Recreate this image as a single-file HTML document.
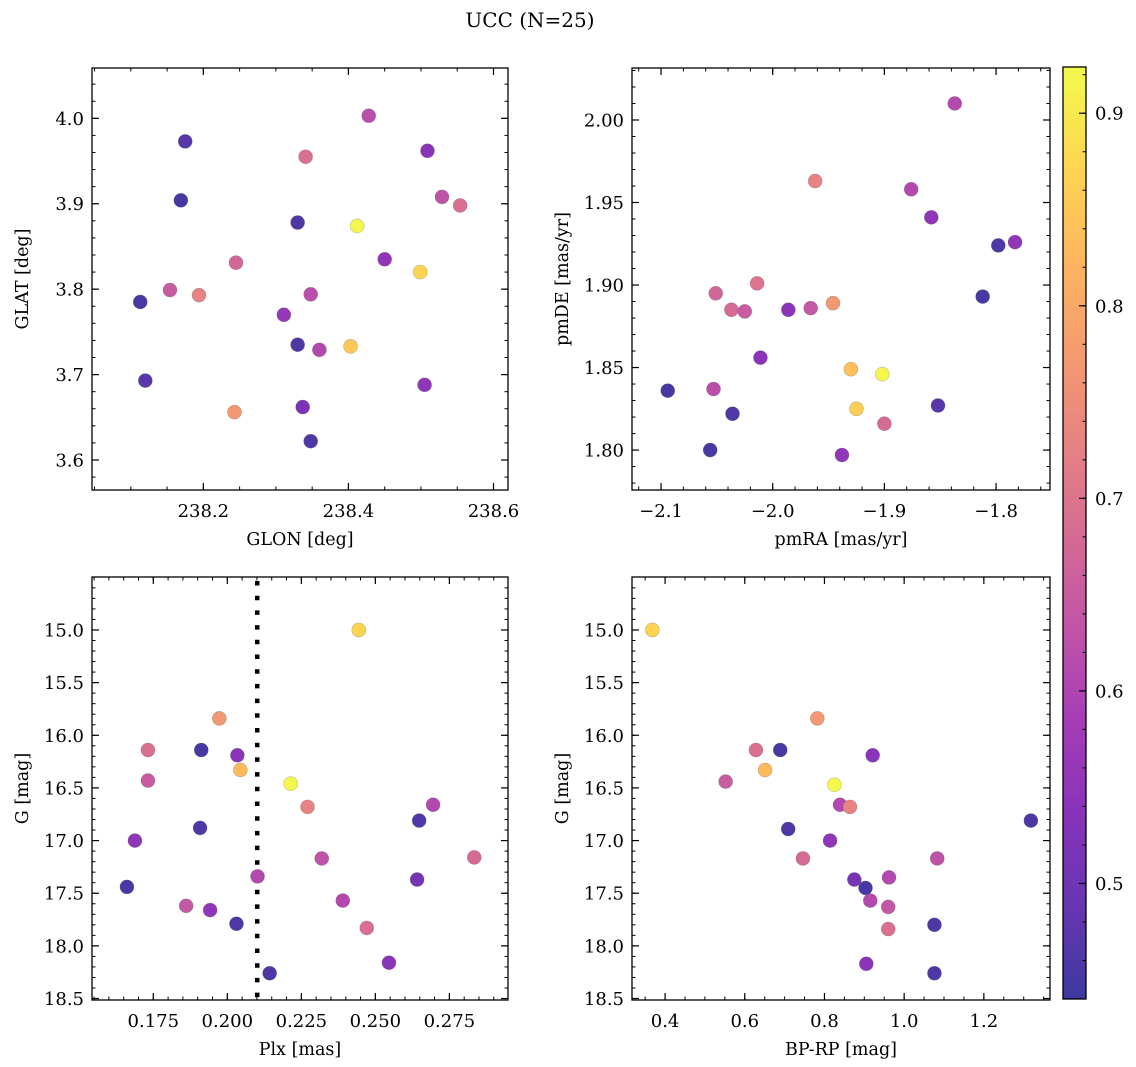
<!DOCTYPE html>
<html><head><meta charset="utf-8"><style>
html,body{margin:0;padding:0;background:#fff;}
svg{display:block;font-family:"DejaVu Serif","Liberation Serif",serif;}
</style></head><body>
<svg id="fig" width="1136" height="1067" viewBox="0 0 1136 1067" xmlns="http://www.w3.org/2000/svg">
<text x="530" y="27" font-size="20" text-anchor="middle">UCC (N=25)</text>
</svg>
<script>
// ---- data ----
const p1Glon = [238.428,238.175,238.341,238.509,238.169,238.529,238.554,238.330,238.412,238.450,238.245,238.499,238.154,238.194,238.113,238.348,238.311,238.330,238.360,238.403,238.120,238.505,238.243,238.337,238.348];
const p1Glat = [4.003,3.973,3.955,3.962,3.904,3.908,3.898,3.878,3.874,3.835,3.831,3.820,3.799,3.793,3.785,3.794,3.770,3.735,3.729,3.733,3.693,3.688,3.656,3.662,3.622];
const p1Prob = [0.62,0.47,0.69,0.54,0.45,0.63,0.69,0.46,0.92,0.55,0.67,0.87,0.65,0.73,0.45,0.62,0.56,0.46,0.61,0.85,0.47,0.55,0.77,0.52,0.46];

const p2PmRA = [-1.837,-1.962,-1.876,-1.858,-1.798,-1.783,-1.812,-2.051,-2.014,-2.037,-2.025,-1.986,-1.966,-1.946,-2.011,-1.930,-1.902,-2.094,-2.053,-2.036,-1.925,-1.900,-1.852,-2.056,-1.938];
const p2PmDE = [2.010,1.963,1.958,1.941,1.924,1.926,1.893,1.895,1.901,1.885,1.884,1.885,1.886,1.889,1.856,1.849,1.846,1.836,1.837,1.822,1.825,1.816,1.827,1.800,1.797];
const p2Prob = [0.61,0.73,0.61,0.55,0.46,0.55,0.45,0.67,0.70,0.68,0.65,0.54,0.64,0.77,0.54,0.84,0.92,0.45,0.62,0.46,0.86,0.68,0.47,0.45,0.55];

const p3Plx = [0.2444,0.1973,0.1732,0.1912,0.2034,0.2044,0.1732,0.2214,0.2271,0.2695,0.2648,0.1908,0.1688,0.2319,0.2834,0.2102,0.2641,0.1661,0.1861,0.1942,0.2390,0.2031,0.2471,0.2546,0.2143];
const p3G = [15.00,15.84,16.14,16.14,16.19,16.33,16.43,16.46,16.68,16.66,16.81,16.88,17.00,17.17,17.16,17.34,17.37,17.44,17.62,17.66,17.57,17.79,17.83,18.16,18.26];
const p3Prob = [0.87,0.77,0.69,0.45,0.54,0.83,0.65,0.92,0.73,0.61,0.46,0.46,0.55,0.63,0.68,0.61,0.51,0.45,0.64,0.55,0.61,0.46,0.69,0.54,0.46];
const plxCut = [0.2101];

const p4BpRp = [0.368,0.782,0.628,0.689,0.921,0.651,0.552,0.825,0.839,0.864,1.318,0.709,0.814,0.746,1.083,0.962,0.875,0.903,0.915,0.960,1.076,0.960,0.905,1.076];
const p4G = [15.00,15.84,16.14,16.14,16.19,16.33,16.44,16.47,16.66,16.68,16.81,16.89,17.00,17.17,17.17,17.35,17.37,17.45,17.57,17.63,17.80,17.84,18.17,18.26];
const p4Prob = [0.87,0.77,0.69,0.45,0.54,0.83,0.65,0.92,0.61,0.73,0.46,0.46,0.55,0.68,0.63,0.61,0.51,0.45,0.61,0.64,0.46,0.69,0.54,0.46];

const p1XTicks = [238.2,238.4,238.6]; const p1XLabels = ["238.2","238.4","238.6"];
const p1YTicks = [3.6,3.7,3.8,3.9,4.0]; const p1YLabels = ["3.6","3.7","3.8","3.9","4.0"];
const p2XTicks = [-2.1,-2.0,-1.9,-1.8]; const p2XLabels = ["\u22122.1","\u22122.0","\u22121.9","\u22121.8"];
const p2YTicks = [1.80,1.85,1.90,1.95,2.00]; const p2YLabels = ["1.80","1.85","1.90","1.95","2.00"];
const p3XTicks = [0.175,0.200,0.225,0.250,0.275]; const p3XLabels = ["0.175","0.200","0.225","0.250","0.275"];
const gTicks = [15.0,15.5,16.0,16.5,17.0,17.5,18.0,18.5]; const gLabels = ["15.0","15.5","16.0","16.5","17.0","17.5","18.0","18.5"];
const p4XTicks = [0.4,0.6,0.8,1.0,1.2]; const p4XLabels = ["0.4","0.6","0.8","1.0","1.2"];
const cbTicks = [0.5,0.6,0.7,0.8,0.9]; const cbLabels = ["0.5","0.6","0.7","0.8","0.9"];

// ---- helpers ----
const NS = "http://www.w3.org/2000/svg";
const svg = document.getElementById('fig');
function mk(tag, attrs, parent){ const e=document.createElementNS(NS,tag); for(const k in attrs) e.setAttribute(k,attrs[k]); (parent||svg).appendChild(e); return e; }
const plasma = ["#0d0887","#41049d","#6a00a8","#8f0da4","#b12a90","#cc4778","#e16462","#f2844b","#fca636","#fcce25","#f0f921"];
function hex(h){return [parseInt(h.slice(1,3),16),parseInt(h.slice(3,5),16),parseInt(h.slice(5,7),16)];}
const vmin=0.44, vmax=0.924;
function cmap(v){
  let t=(v-vmin)/(vmax-vmin); t=Math.max(0,Math.min(1,t));
  const f=t*10, i=Math.min(9,Math.floor(f)), r=f-i;
  const a=hex(plasma[i]), b=hex(plasma[i+1]);
  const c=a.map((x,k)=>x+(b[k]-x)*r).map(x=>Math.round(x*0.8+255*0.2));
  return `rgb(${c[0]},${c[1]},${c[2]})`;
}
function lin(d0,d1,r0,r1){ return v=>r0+(v-d0)/(d1-d0)*(r1-r0); }
const FS=18;

function panel(o){
  const g=mk('g',{});
  
  
  const sx=lin(o.xd[0],o.xd[1],o.L,o.R), sy=lin(o.yd[0],o.yd[1],o.B,o.T);
  const mt=mk('g',{stroke:'#000','stroke-width':1},g);
  
  
  const xs=Math.min(...o.xd), xe=Math.max(...o.xd);
  for(let k=Math.ceil(xs/o.xm-1e-6);k*o.xm<=xe+1e-9;k++){ const px=sx(k*o.xm);
    if(px<o.L+0.5||px>o.R-0.5) continue;
    mk('line',{x1:px,x2:px,y1:o.B,y2:o.B-3.5},mt); mk('line',{x1:px,x2:px,y1:o.T,y2:o.T+3.5},mt); }
  const ys=Math.min(...o.yd), ye=Math.max(...o.yd);
  for(let k=Math.ceil(ys/o.ym-1e-6);k*o.ym<=ye+1e-9;k++){ const py=sy(k*o.ym);
    if(py<o.T+0.5||py>o.B-0.5) continue;
    mk('line',{x1:o.L,x2:o.L+3.5,y1:py,y2:py},mt); mk('line',{x1:o.R,x2:o.R-3.5,y1:py,y2:py},mt); }
  o.xt.forEach((v,i)=>{ const px=sx(v);
    mk('line',{x1:px,x2:px,y1:o.B,y2:o.B-7,stroke:'#000','stroke-width':1.2},g);
    mk('line',{x1:px,x2:px,y1:o.T,y2:o.T+7,stroke:'#000','stroke-width':1.2},g);
    const t=mk('text',{x:px,y:o.B+27,'font-size':FS,'text-anchor':'middle'},g); t.textContent=o.xl[i];
    
    
  });
  o.yt.forEach((v,i)=>{ const py=sy(v);
    mk('line',{x1:o.L,x2:o.L+7,y1:py,y2:py,stroke:'#000','stroke-width':1.2},g);
    mk('line',{x1:o.R,x2:o.R-7,y1:py,y2:py,stroke:'#000','stroke-width':1.2},g);
    const t=mk('text',{x:o.L-8,y:py+6.5,'font-size':FS,'text-anchor':'end'},g); t.textContent=o.yl[i];
    
    
  });
  if(o.vline){ o.vline.forEach(v=>{ const l=mk('line',{x1:sx(v),x2:sx(v),y1:o.T+4,y2:o.B,stroke:'#000','stroke-width':4.5,'stroke-dasharray':'4.5 10.2'},g);
    
     }); }
  o.x.forEach((v,i)=>{
    const c=mk('circle',{cx:sx(v),cy:sy(o.y[i]),r:7,fill:cmap(o.c[i]),stroke:'rgba(80,80,80,0.35)','stroke-width':0.6},g);
    
    
  });
  const fr=mk('rect',{x:o.L,y:o.T,width:o.R-o.L,height:o.B-o.T,fill:'none',stroke:'#000','stroke-width':1.3},g);
  
  
  const xt=mk('text',{x:(o.L+o.R)/2,y:o.B+55,'font-size':17.5,'text-anchor':'middle'},g); xt.textContent=o.xlab;
  
  
  const yx=o.L-64, yy=(o.T+o.B)/2;
  const yt=mk('text',{x:yx,y:yy,'font-size':17.5,'text-anchor':'middle',transform:`rotate(-90 ${yx} ${yy})`},g); yt.textContent=o.ylab;
  
  
}

panel({name:'position-panel',L:92,R:508,T:68,B:490,xd:[238.0465,238.620],yd:[3.5649,4.0589],xm:0.05,ym:0.02,
  xt:p1XTicks,xl:p1XLabels,yt:p1YTicks,yl:p1YLabels,x:p1Glon,y:p1Glat,c:p1Prob,xlab:'GLON [deg]',ylab:'GLAT [deg]'});
panel({name:'proper-motion-panel',L:632,R:1050,T:68,B:490,xd:[-2.126,-1.7517],yd:[1.7758,2.0315],xm:0.02,ym:0.01,
  xt:p2XTicks,xl:p2XLabels,yt:p2YTicks,yl:p2YLabels,x:p2PmRA,y:p2PmDE,c:p2Prob,xlab:'pmRA [mas/yr]',ylab:'pmDE [mas/yr]'});
panel({name:'parallax-panel',L:92,R:508,T:577,B:1000,xd:[0.1543,0.2948],yd:[18.514,14.497],xm:0.005,ym:0.1,
  xt:p3XTicks,xl:p3XLabels,yt:gTicks,yl:gLabels,x:p3Plx,y:p3G,c:p3Prob,xlab:'Plx [mas]',ylab:'G [mag]',vline:plxCut});
panel({name:'cmd-panel',L:632,R:1050,T:577,B:1000,xd:[0.317,1.366],yd:[18.514,14.497],xm:0.05,ym:0.1,
  xt:p4XTicks,xl:p4XLabels,yt:gTicks,yl:gLabels,x:p4BpRp,y:p4G,c:p4Prob,xlab:'BP-RP [mag]',ylab:'G [mag]'});

(function(){
  const L=1063,R=1086,T=67,B=999;
  const cb=mk('g',{});
  
  
  const defs=mk('defs',{},cb);
  const lg=mk('linearGradient',{id:'cbg',x1:0,y1:1,x2:0,y2:0},defs);
  for(let k=0;k<=20;k++){ const v=vmin+(vmax-vmin)*k/20; mk('stop',{offset:(k/20),'stop-color':cmap(v)},lg); }
  mk('rect',{x:L,y:T,width:R-L,height:B-T,fill:'url(#cbg)'},cb);
  const sy=lin(vmin,vmax,B,T);
  for(let k=Math.ceil(vmin/0.02);k*0.02<=vmax;k++){ const py=sy(k*0.02); mk('line',{x1:R,x2:R-3.5,y1:py,y2:py,stroke:'#000','stroke-width':1},cb); }
  cbTicks.forEach((v,i)=>{ const py=sy(v);
    mk('line',{x1:R,x2:R-7,y1:py,y2:py,stroke:'#000','stroke-width':1.2},cb);
    const t=mk('text',{x:R+9,y:py+6.5,'font-size':FS},cb); t.textContent=cbLabels[i];
    
    
  });
  mk('rect',{x:L,y:T,width:R-L,height:B-T,fill:'none',stroke:'#000','stroke-width':1.3},cb);
})();
</script>
</body></html>
